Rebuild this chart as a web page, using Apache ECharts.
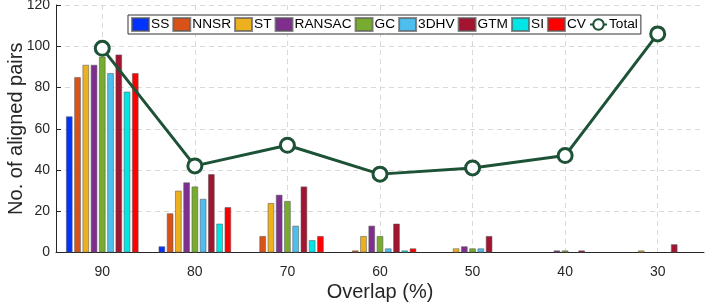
<!DOCTYPE html>
<html>
<head>
<meta charset="utf-8">
<script src="https://cdn.jsdelivr.net/npm/echarts@6/dist/echarts.min.js"></script>
<style>
html,body{margin:0;padding:0;background:#fff;}
#chart{width:706px;height:308px;}
</style>
</head>
<body>
<div id="chart"></div>
<script>
var categories = ['90', '80', '70', '60', '50', '40', '30'];
var seriesNames = ['SS', 'NNSR', 'ST', 'RANSAC', 'GC', '3DHV', 'GTM', 'SI', 'CV'];
var SS     = [66, 3, 0, 0, 0, 0, 0];
var NNSR   = [85, 19, 8, 1, 0, 0, 0];
var ST     = [91, 30, 24, 8, 2, 0, 1];
var RANSAC = [91, 34, 28, 13, 3, 1, 0];
var GC     = [95, 32, 25, 8, 2, 1, 0];
var DHV3   = [87, 26, 13, 2, 2, 0, 0];
var GTM    = [96, 38, 32, 14, 8, 1, 4];
var SI     = [78, 14, 6, 1, 0, 0, 0];
var CV     = [87, 22, 8, 2, 0, 0, 0];
var Total  = [99, 42, 52, 38, 41, 47, 106];
var yTicks = [0, 20, 40, 60, 80, 100, 120];

var barData = [SS, NNSR, ST, RANSAC, GC, DHV3, GTM, SI, CV];
var colors = ['#0033ff', '#d95319', '#edb120', '#7e2f8e', '#77ac30', '#4dbeee', '#a2142f', '#00e6e6', '#ff0000'];
var lineColor = '#1e5236';
var font = '"Liberation Sans", Arial, Helvetica, sans-serif';

var series = barData.map(function (d, i) {
  return {
    name: seriesNames[i],
    type: 'bar',
    data: d.map(function (v) { return v === 0 ? null : v; }),
    barWidth: 6.6,
    barGap: '25%',
    itemStyle: { color: colors[i], borderColor: 'rgba(90,90,90,0.7)', borderWidth: 0.8 },
    z: 2
  };
});
series.push({
  name: 'Total',
  type: 'line',
  data: Total,
  symbol: 'circle',
  symbolSize: 14,
  lineStyle: { color: lineColor, width: 3 },
  itemStyle: { color: '#fff', borderColor: lineColor, borderWidth: 3 },
  z: 5
});

var chart = echarts.init(document.getElementById('chart'), null, { renderer: 'canvas' });
chart.setOption({
  animation: false,
  textStyle: { fontFamily: font },
  grid: { left: 56, right: 2, top: 5, bottom: 55.5, outerBoundsMode: 'none', containLabel: false },
  legend: {
    data: seriesNames.map(function (n) { return { name: n, icon: 'rect' }; }).concat([{ name: 'Total' }]),
    left: 128,
    top: 15,
    orient: 'horizontal',
    itemWidth: 17,
    itemHeight: 13,
    itemGap: 3,
    padding: [2, 3, 2, 3],
    backgroundColor: '#fff',
    borderColor: '#333',
    borderWidth: 1,
    textStyle: { fontSize: 13.7, color: '#000', fontFamily: font, padding: [0, 0, 0, -3] }
  },
  xAxis: {
    type: 'category',
    data: categories,
    name: 'Overlap (%)',
    nameLocation: 'middle',
    nameGap: 30,
    nameMoveOverlap: false,
    nameTextStyle: { fontSize: 20, color: '#262626', fontFamily: font },
    axisLine: { lineStyle: { color: '#262626', width: 1 } },
    axisTick: { inside: true, length: 5, alignWithLabel: true, lineStyle: { color: '#262626' } },
    axisLabel: { fontSize: 14, color: '#262626', margin: 13 },
    splitLine: { show: true, alignWithLabel: true, lineStyle: { color: '#d9d9d9', type: [5, 4], width: 1 } }
  },
  yAxis: {
    type: 'value',
    min: 0,
    max: 120,
    interval: 20,
    name: 'No. of aligned pairs',
    nameLocation: 'middle',
    nameGap: 30,
    nameMoveOverlap: false,
    nameTextStyle: { fontSize: 20, color: '#262626', fontFamily: font },
    axisLine: { show: true, lineStyle: { color: '#262626', width: 1 } },
    axisTick: { show: true, inside: true, length: 5, lineStyle: { color: '#262626' } },
    axisLabel: {
      fontSize: 14, color: '#262626', margin: 6,
      formatter: function (v) { return yTicks.indexOf(v) >= 0 ? String(v) : ''; }
    },
    splitLine: { show: true, lineStyle: { color: '#d9d9d9', type: [5, 4], width: 1 } }
  },
  series: series
});
</script>
</body>
</html>
